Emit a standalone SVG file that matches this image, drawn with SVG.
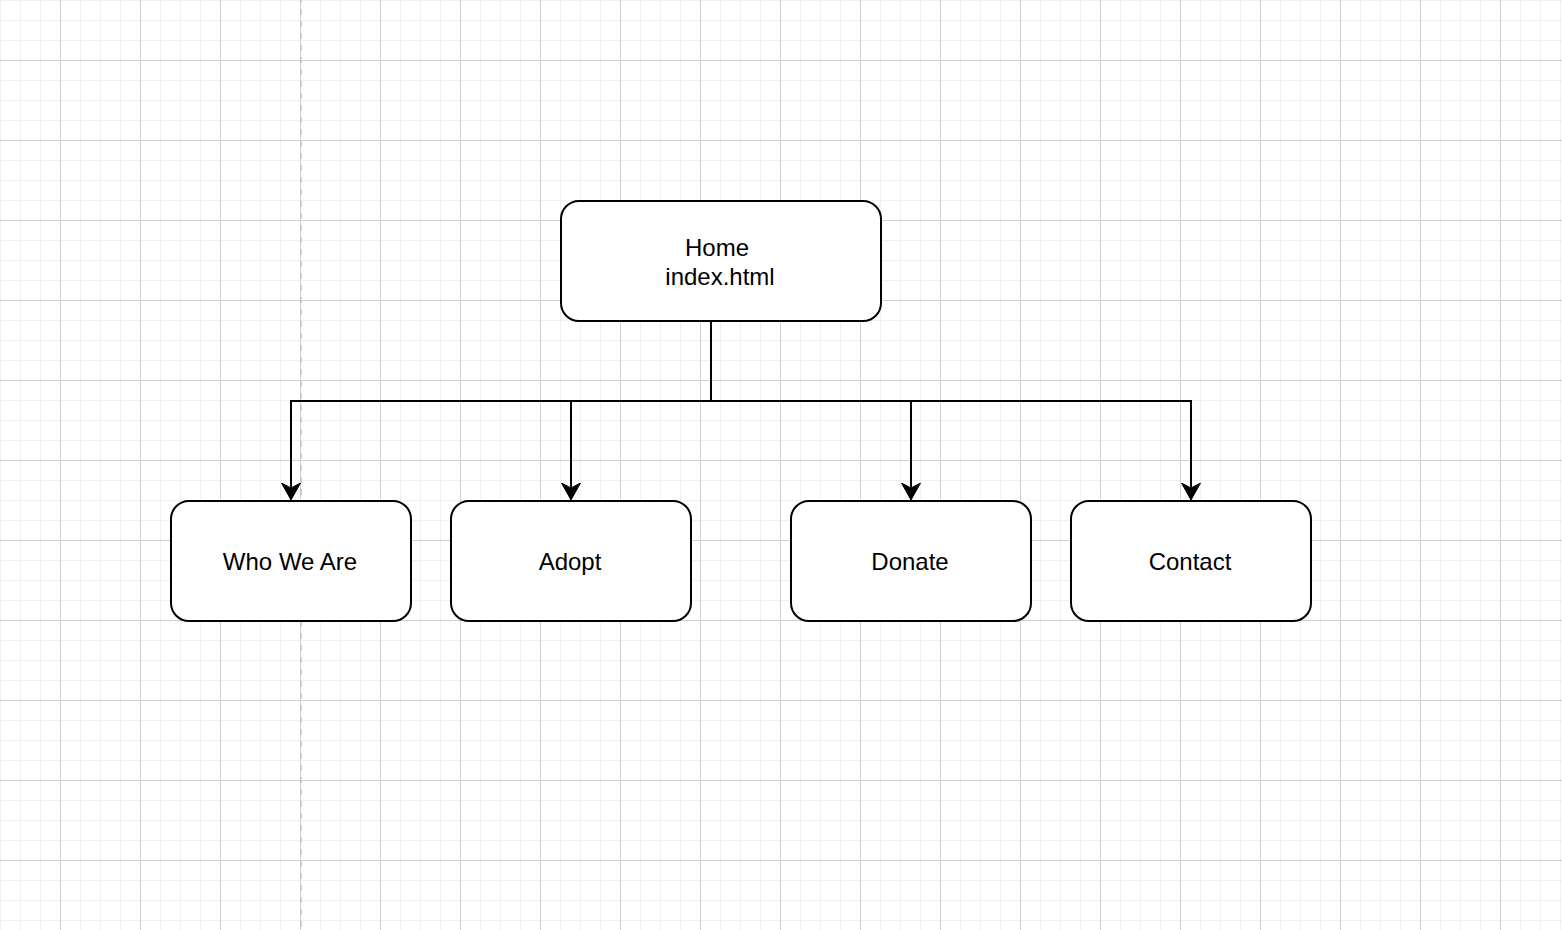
<svg xmlns="http://www.w3.org/2000/svg" width="1562" height="930" viewBox="0 0 1562 930">
  <style>
    .node rect { fill: #ffffff; stroke: #000000; stroke-width: 2; }
    .node text { font-family: "Liberation Sans", Arial, Helvetica, sans-serif; font-size: 24px; fill: #000000; text-anchor: middle; }
    .edge { fill: none; stroke: #000000; stroke-width: 2; marker-end: url(#arrow); }
  </style>
  <defs>
    <pattern id="minor" patternUnits="userSpaceOnUse" x="0" y="0" width="20" height="20">
      <path d="M0.5 0 V20 M0 0.5 H20" fill="none" stroke="#f0f0f0" stroke-width="1"/>
    </pattern>
    <pattern id="major" patternUnits="userSpaceOnUse" x="60" y="60" width="80" height="80">
      <path d="M0.5 0 V80 M0 0.5 H80" fill="none" stroke="#d0d0d0" stroke-width="1"/>
    </pattern>
    <marker id="arrow" markerUnits="userSpaceOnUse" viewBox="0 -10 18 20" markerWidth="18" markerHeight="20" refX="5" refY="0" orient="auto">
      <path d="M17 0 L0 -9.5 L5 0 L0 9.5 Z" fill="#000000" stroke="#000000" stroke-width="1" stroke-linejoin="miter"/>
    </marker>
  </defs>

  <g id="background">
    <rect x="0" y="0" width="1562" height="930" fill="#ffffff"/>
    <rect x="0" y="0" width="1562" height="930" fill="url(#minor)"/>
    <rect x="0" y="0" width="1562" height="930" fill="url(#major)"/>
    <line x1="301" y1="0" x2="301" y2="930" stroke="#c4c4c4" stroke-width="1.5" stroke-dasharray="6 6" stroke-dashoffset="3"/>
  </g>

  <g id="connectors">
    <path class="edge" d="M711 321 V401 H291 V488"/>
    <path class="edge" d="M711 321 V401 H571 V488"/>
    <path class="edge" d="M711 321 V401 H911 V488"/>
    <path class="edge" d="M711 321 V401 H1191 V488"/>
  </g>

  <g id="node-home" class="node">
    <rect x="561" y="201" width="320" height="120" rx="18" ry="18"/>
    <text x="717" y="256">Home</text>
    <text x="720" y="285">index.html</text>
  </g>

  <g id="node-who-we-are" class="node">
    <rect x="171" y="501" width="240" height="120" rx="18" ry="18"/>
    <text x="290" y="570">Who We Are</text>
  </g>

  <g id="node-adopt" class="node">
    <rect x="451" y="501" width="240" height="120" rx="18" ry="18"/>
    <text x="570" y="570">Adopt</text>
  </g>

  <g id="node-donate" class="node">
    <rect x="791" y="501" width="240" height="120" rx="18" ry="18"/>
    <text x="910" y="570">Donate</text>
  </g>

  <g id="node-contact" class="node">
    <rect x="1071" y="501" width="240" height="120" rx="18" ry="18"/>
    <text x="1190" y="570">Contact</text>
  </g>
</svg>
